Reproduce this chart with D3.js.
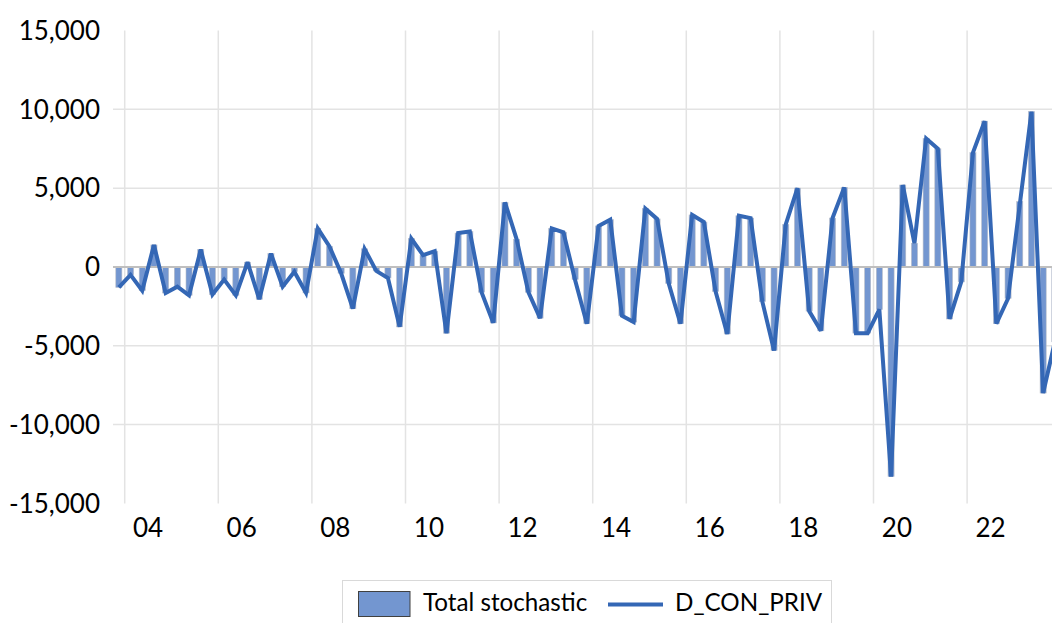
<!DOCTYPE html>
<html>
<head>
<meta charset="utf-8">
<script src="https://cdn.jsdelivr.net/npm/d3@7"></script>
<style>
  html, body { margin: 0; padding: 0; background: #ffffff; }
  svg { display: block; }
  text { font-family: Lato, "Open Sans", "Liberation Sans", sans-serif; fill: #000; }
</style>
</head>
<body>
<svg id="chart" width="1052" height="623"></svg>
<script>
// ---- data (quarterly, 2003Q4 .. 2023Q4) ----
const startYear = 2003;
const startQuarter = 4;
const totalStochastic = [
  -1300, -500, -1500, 1400, -1650, -1250, -1800, 1100, -1750, -800,
  -1800, 300, -2050, 850, -1250, -300, -1650, 2450, 1300, -400,
  -2650, 1150, -250, -700, -3800, 1800, 750, 1000, -4200, 2150,
  2250, -1600, -3550, 4100, 1750, -1600, -3250, 2450, 2200, -800,
  -3600, 2600, 3000, -3100, -3500, 3700, 3050, -1050, -3600, 3300,
  2850, -1550, -4250, 3250, 3100, -2200, -5300, 2700, 5000, -2800,
  -4050, 3100, 5050, -4200, -4200, -2700, -13300, 5200, 1500, 8150,
  7500, -3300, -950, 7250, 9250, -3600, -2000, 4150, 9850, -8000,
  -4750
];
const dConPriv = [
  -1300, -500, -1500, 1400, -1650, -1250, -1800, 1100, -1750, -800,
  -1800, 300, -2050, 850, -1250, -300, -1650, 2450, 1300, -400,
  -2650, 1150, -250, -700, -3800, 1800, 750, 1000, -4200, 2150,
  2250, -1600, -3550, 4100, 1750, -1600, -3250, 2450, 2200, -850,
  -3600, 2600, 3000, -3100, -3500, 3700, 3050, -1050, -3600, 3300,
  2850, -1550, -4250, 3250, 3100, -2200, -5300, 2700, 5000, -2800,
  -4050, 3100, 5050, -4200, -4200, -2700, -13300, 5200, 1500, 8150,
  7500, -3300, -950, 7250, 9250, -3600, -2000, 3950, 9850, -8000,
  -4750
];
const yTicks = [-15000, -10000, -5000, 0, 5000, 10000, 15000];
const xTickYears = [2004, 2006, 2008, 2010, 2012, 2014, 2016, 2018, 2020, 2022];
const xTickLabels = ["04", "06", "08", "10", "12", "14", "16", "18", "20", "22"];
const seriesNames = ["Total stochastic", "D_CON_PRIV"];

(function () {
  // category labels like "2003Q4"
  const categories = [];
  {
    let yr = startYear, q = startQuarter;
    for (let i = 0; i < dConPriv.length; i++) {
      categories.push(yr + "Q" + q);
      q++; if (q > 4) { q = 1; yr++; }
    }
  }

  const svg = d3.select("#chart");
  const W = 1052, H = 623;
  const plotLeft = 113, step = 11.7;
  const plotTop = 30.5, plotBottom = 503.4;

  const x = d3.scaleBand()
    .domain(categories)
    .range([plotLeft, plotLeft + step * categories.length])
    .paddingInner(0.48).paddingOuter(0.24);

  const y = d3.scaleLinear().domain([-15000, 15000]).range([plotBottom, plotTop]);

  svg.append("defs").append("clipPath").attr("id", "plotclip")
    .append("rect").attr("x", 0).attr("y", 0).attr("width", W).attr("height", H);

  const g = svg.append("g").attr("clip-path", "url(#plotclip)");
  const bandStep = x.step();
  const off = (bandStep - x.bandwidth()) / 2;

  // horizontal gridlines
  g.append("g").selectAll("line")
    .data(yTicks.filter(d => d !== 0 && d !== 15000 && d !== -15000))
    .join("line")
    .attr("x1", plotLeft).attr("x2", W + 20)
    .attr("y1", d => y(d)).attr("y2", d => y(d))
    .attr("stroke", "#e3e3e3").attr("stroke-width", 1.5);

  // vertical gridlines at Q1 of tick years
  g.append("g").selectAll("line")
    .data(xTickYears)
    .join("line")
    .attr("x1", d => x(d + "Q1") - off)
    .attr("x2", d => x(d + "Q1") - off)
    .attr("y1", plotTop).attr("y2", plotBottom)
    .attr("stroke", "#e3e3e3").attr("stroke-width", 1.5);

  // bars
  g.append("g").selectAll("rect")
    .data(totalStochastic)
    .join("rect")
    .attr("x", (d, i) => x(categories[i]))
    .attr("width", x.bandwidth())
    .attr("y", d => Math.min(y(d), y(0)))
    .attr("height", d => Math.abs(y(d) - y(0)))
    .attr("fill", "#7396d0")
    .attr("stroke", "#b8bdc8")
    .attr("stroke-width", 0.6);

  // zero axis line
  g.append("line")
    .attr("x1", plotLeft).attr("x2", W + 20)
    .attr("y1", y(0)).attr("y2", y(0))
    .attr("stroke", "#bfbfbf").attr("stroke-width", 2);

  // line series
  const line = d3.line()
    .x((d, i) => x(categories[i]) + x.bandwidth() / 2)
    .y(d => y(d));
  g.append("path")
    .datum(dConPriv)
    .attr("d", line)
    .attr("fill", "none")
    .attr("stroke", "#3467b5")
    .attr("stroke-width", 4)
    .attr("stroke-linejoin", "miter")
    .attr("stroke-miterlimit", 3);

  // y axis labels
  svg.append("g").selectAll("text")
    .data(yTicks)
    .join("text")
    .attr("x", 100)
    .attr("y", d => y(d) + 9.3)
    .attr("text-anchor", "end")
    .attr("font-size", 26)
    .text(d => d3.format(",")(d).replace("\u2212", "-"));

  // x axis labels centered over the year span
  svg.append("g").selectAll("text")
    .data(xTickYears)
    .join("text")
    .attr("x", d => x(d + "Q3") - off)
    .attr("y", 537)
    .attr("text-anchor", "middle")
    .attr("font-size", 26)
    .text((d, i) => xTickLabels[i]);

  // legend
  const lg = svg.append("g");
  lg.append("rect")
    .attr("x", 342.5).attr("y", 580.5).attr("width", 489).attr("height", 60)
    .attr("fill", "#fff").attr("stroke", "#d9d9d9").attr("stroke-width", 1);
  lg.append("rect")
    .attr("x", 358.5).attr("y", 591.5).attr("width", 51.5).attr("height", 25)
    .attr("fill", "#7396d0").attr("stroke", "#404040").attr("stroke-width", 1);
  lg.append("text").attr("x", 423).attr("y", 611).attr("font-size", 24.2).text(seriesNames[0]);
  lg.append("line")
    .attr("x1", 608).attr("x2", 663).attr("y1", 604.5).attr("y2", 604.5)
    .attr("stroke", "#3467b5").attr("stroke-width", 4);
  lg.append("text").attr("x", 675).attr("y", 611).attr("font-size", 24.2).text(seriesNames[1]);
})();
</script>
</body>
</html>
